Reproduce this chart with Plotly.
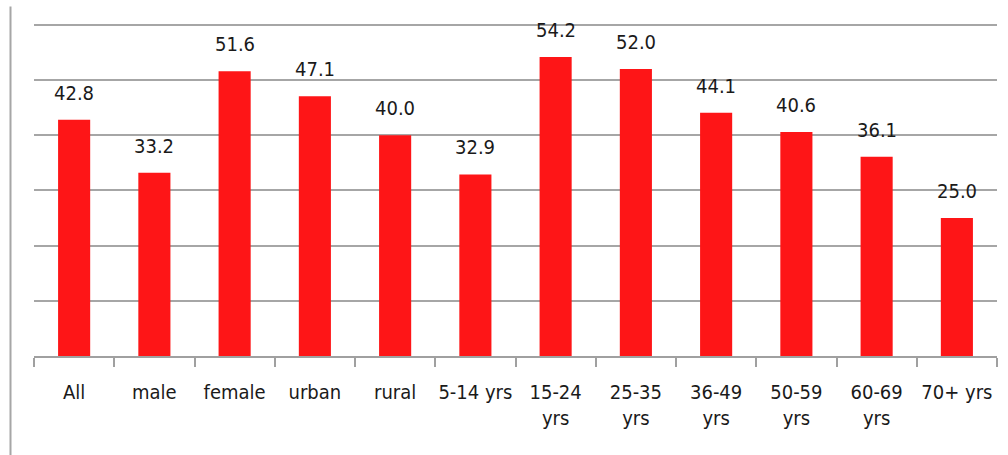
import plotly.graph_objects as go

categories = ["All", "male", "female", "urban", "rural", "5-14 yrs", "15-24<br>yrs",
              "25-35<br>yrs", "36-49<br>yrs", "50-59<br>yrs", "60-69<br>yrs", "70+ yrs"]
values = [42.8, 33.2, 51.6, 47.1, 40.0, 32.9, 54.2, 52.0, 44.1, 40.6, 36.1, 25.0]
value_labels = ["42.8", "33.2", "51.6", "47.1", "40.0", "32.9", "54.2", "52.0", "44.1", "40.6", "36.1", "25.0"]

FONT = "DejaVu Sans Condensed, sans-serif"

fig = go.Figure()
fig.add_trace(go.Bar(
    x=categories, y=values,
    marker=dict(color="#fe1517", line=dict(width=0)),
    width=0.4,
    hoverinfo="skip",
))

for c, v, t in zip(categories, values, value_labels):
    fig.add_annotation(x=c, y=v, text=t, showarrow=False, yanchor="bottom",
                       yshift=13, font=dict(family=FONT, size=20, color="#1a1a1a"))

# outer left border line
fig.add_shape(type="line", xref="paper", yref="paper",
              x0=-0.0244, x1=-0.0244, y0=-0.30, y1=1.04,
              line=dict(color="#a6a6a6", width=2))

fig.update_layout(
    width=1008, height=455,
    margin=dict(l=34, r=11, t=20, b=99, autoexpand=False),
    paper_bgcolor="white", plot_bgcolor="white",
    showlegend=False,
    bargap=0.6,
    xaxis=dict(
        showgrid=False, showline=True, linecolor="#a0a0a0", linewidth=2,
        ticks="outside", tickson="boundaries", ticklen=9, tickcolor="#a0a0a0", tickwidth=2,
        tickfont=dict(family=FONT, size=20, color="#1a1a1a"),
        tickangle=0, automargin=False,
        ticklabelstandoff=17,
    ),
    yaxis=dict(
        range=[0, 60.9], tickvals=[10, 20, 30, 40, 50, 60], showgrid=True,
        gridcolor="#a6a6a6", gridwidth=2,
        showticklabels=False, zeroline=False, showline=False, ticks="",
        automargin=False,
    ),
)

fig.write_html("out.html")
